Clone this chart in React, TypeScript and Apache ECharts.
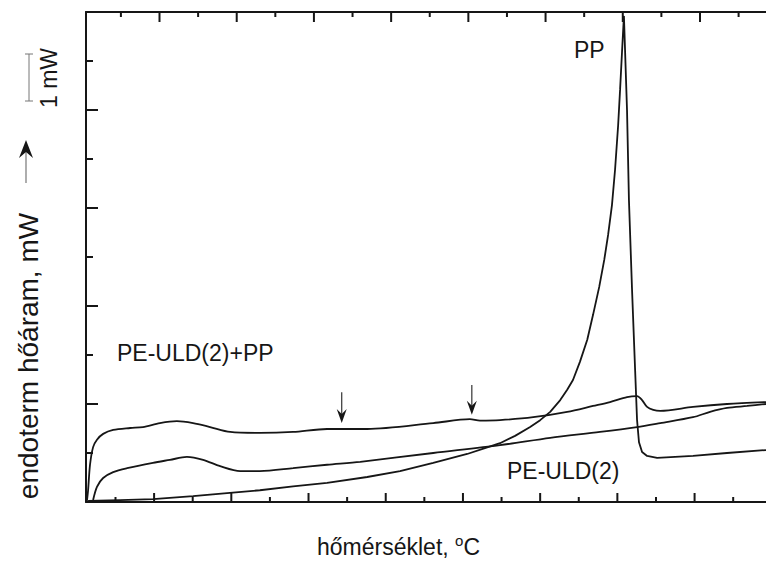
import React, { useEffect, useRef } from "react";
import * as echarts from "echarts";

// x axis: temperature-like units (no labels in the original), y axis: mW
const X_MIN = 22.36;
const X_MAX = 198.5;
const X_MAJOR_TICKS = [40, 60, 80, 100, 120, 140, 160, 180];
const X_MINOR_TICKS = [30, 50, 70, 90, 110, 130, 150, 170, 190];
const TOP_TICK_SHIFT = 1.4;
const Y_MIN = 0;
const Y_MAX = 10;

// PE-ULD(2)+PP
const blendCurve: [number, number][] = [
  [22.6, 0.02], [22.9, 0.24], [23.4, 0.76], [24.2, 1.12], [25.2, 1.27], [26.8, 1.39],
  [29.4, 1.47], [33.8, 1.51], [37.1, 1.53], [41.5, 1.61], [45.9, 1.65], [50.1, 1.61],
  [54.5, 1.53], [59.7, 1.43], [67.4, 1.41], [76.0, 1.43], [84.8, 1.49], [95.2, 1.49],
  [112.3, 1.61], [121.8, 1.69], [124.4, 1.66], [129.6, 1.67], [138.2, 1.73], [147.0, 1.84],
  [153.7, 1.96], [158.1, 2.04], [162.5, 2.14], [165.1, 2.16], [166.4, 2.08],
  [167.7, 1.94], [169.3, 1.88], [171.1, 1.86], [179.6, 1.94], [188.4, 2.0], [198.5, 2.04],
];

// PE-ULD(2)
const peCurve: [number, number][] = [
  [24.2, 0.04], [25.2, 0.31], [26.8, 0.49], [29.4, 0.61], [33.0, 0.69], [39.7, 0.8],
  [44.1, 0.86], [48.5, 0.92], [52.7, 0.86], [57.1, 0.73], [62.3, 0.63], [67.4, 0.63],
  [76.0, 0.69], [84.8, 0.76], [93.4, 0.82], [112.3, 1.0], [129.6, 1.16], [142.6, 1.31],
  [155.5, 1.43], [165.1, 1.53], [171.1, 1.61], [179.6, 1.73], [184.0, 1.84],
  [188.4, 1.92], [193.6, 1.96], [198.5, 2.0],
];

// PP
const ppCurve: [number, number][] = [
  [22.9, 0.02], [31.2, 0.04], [39.7, 0.06], [50.1, 0.12], [58.9, 0.18], [67.4, 0.24],
  [76.0, 0.32], [84.8, 0.39], [95.2, 0.51], [103.7, 0.63], [112.3, 0.8], [121.1, 0.98],
  [125.7, 1.1], [129.6, 1.2], [133.5, 1.35], [137.4, 1.53], [140.0, 1.67], [142.6, 1.84],
  [145.2, 2.08], [147.0, 2.29], [148.5, 2.49], [150.3, 2.86], [152.2, 3.31], [153.7, 3.82],
  [155.3, 4.39], [156.6, 4.94], [157.6, 5.45], [158.6, 6.06], [159.4, 6.78], [160.2, 7.69],
  [160.7, 8.41], [161.2, 9.18], [161.7, 9.92], [162.5, 8.0], [163.0, 6.16], [163.8, 4.33],
  [164.6, 2.69], [165.1, 1.67], [165.6, 1.22], [166.4, 1.02], [167.7, 0.94], [170.3, 0.9],
  [179.6, 0.94], [188.4, 1.0], [198.5, 1.06],
];

// arrows marking transitions: [x, y of tail, y of tip]
const arrowMarks: [number, number, number][] = [
  [88.6, 2.24, 1.61],
  [122.3, 2.39, 1.78],
];

const FONT = "'Liberation Sans', Arial, Helvetica, sans-serif";
const INK = "#161616";
const GRID = { left: 86, top: 12, width: 680, height: 490 };

export default function App() {
  const ref = useRef<HTMLDivElement>(null);

  useEffect(() => {
    if (!ref.current) return;
    const chart = echarts.init(ref.current, null, { renderer: "svg" });

    // measure the x title so the superscript "o" sits right after the comma
    const ctx = document.createElement("canvas").getContext("2d")!;
    ctx.font = `23px ${FONT}`;
    const wMain = ctx.measureText("hőmérséklet, ").width;
    ctx.font = `15px ${FONT}`;
    const wSup = ctx.measureText("o").width;

    const hidden = { show: false };

    const lineSeries = (name: string, data: [number, number][], smooth: number | boolean) => ({
      name,
      type: "line",
      xAxisIndex: 0,
      yAxisIndex: 0,
      data,
      smooth,
      symbol: "none",
      showSymbol: false,
      lineStyle: { color: INK, width: 1.8 },
      clip: true,
    });

    chart.setOption({
      animation: false,
      backgroundColor: "#ffffff",
      grid: { ...GRID, containLabel: false },
      xAxis: [
        {
          type: "value",
          position: "bottom",
          min: X_MIN,
          max: X_MAX,
          axisLine: { show: true, onZero: false, lineStyle: { color: INK, width: 2 } },
          axisTick: hidden,
          axisLabel: hidden,
          splitLine: hidden,
        },
        {
          type: "value",
          position: "top",
          min: X_MIN,
          max: X_MAX,
          axisLine: { show: true, onZero: false, lineStyle: { color: INK, width: 2 } },
          axisTick: hidden,
          axisLabel: hidden,
          splitLine: hidden,
        },
      ],
      yAxis: [
        {
          type: "value",
          min: Y_MIN,
          max: Y_MAX,
          interval: 2,
          axisLine: { show: true, onZero: false, lineStyle: { color: INK, width: 2 } },
          axisTick: { show: true, inside: true, length: 12, lineStyle: { color: INK, width: 2 } },
          minorTick: { show: true, splitNumber: 2, length: 7, lineStyle: { color: INK, width: 2 } },
          axisLabel: hidden,
          splitLine: hidden,
          minorSplitLine: hidden,
        },
      ],
      series: [
        lineSeries("PE-ULD(2)+PP", blendCurve, 0.3),
        lineSeries("PE-ULD(2)", peCurve, 0.3),
        lineSeries("PP", ppCurve, false),
        {
          type: "custom",
          xAxisIndex: 0,
          yAxisIndex: 0,
          data: arrowMarks,
          clip: false,
          silent: true,
          renderItem: (params: any, api: any) => {
            const tail = api.coord([api.value(0), api.value(1)]);
            const tip = api.coord([api.value(0), api.value(2)]);
            const hw = 5;
            const hh = 14;
            return {
              type: "group",
              children: [
                {
                  type: "line",
                  shape: { x1: tail[0], y1: tail[1], x2: tip[0], y2: tip[1] - hh * 0.6 },
                  style: { stroke: "#333", lineWidth: 1.2 },
                },
                {
                  type: "polygon",
                  shape: {
                    points: [
                      [tip[0], tip[1]],
                      [tip[0] + hw, tip[1] - hh],
                      [tip[0], tip[1] - hh * 0.65],
                      [tip[0] - hw, tip[1] - hh],
                    ],
                  },
                  style: { fill: INK },
                },
              ],
            };
          },
        },
      ],
    });

    // pixel helpers through the chart's own x / y scales (linear fallback if unavailable)
    const toPx = (v: number) => {
      const r = Number(chart.convertToPixel({ xAxisIndex: 0 }, v));
      return Number.isFinite(r) ? r : GRID.left + ((v - X_MIN) / (X_MAX - X_MIN)) * GRID.width;
    };
    const toPy = (v: number) => {
      const r = Number(chart.convertToPixel({ yAxisIndex: 0 }, v));
      return Number.isFinite(r) ? r : GRID.top + GRID.height - ((v - Y_MIN) / (Y_MAX - Y_MIN)) * GRID.height;
    };
    const yBottom = toPy(Y_MIN);
    const yTop = toPy(Y_MAX);

    // inward ticks on the bottom and top frame lines
    const tickEls: any[] = [];
    const addTicks = (values: number[], lenBottom: number, lenTop: number) => {
      values.forEach((v) => {
        const xb = toPx(v);
        const xt = toPx(v + TOP_TICK_SHIFT);
        tickEls.push({
          type: "rect",
          shape: { x: xb - 1, y: yBottom - lenBottom, width: 2, height: lenBottom },
          style: { fill: INK },
        });
        tickEls.push({
          type: "rect",
          shape: { x: xt - 1, y: yTop, width: 2, height: lenTop },
          style: { fill: INK },
        });
      });
    };
    addTicks(X_MAJOR_TICKS, 9, 10);
    addTicks(X_MINOR_TICKS, 5, 5);

    chart.setOption({
      graphic: [
        ...tickEls,
        {
          type: "text",
          x: 574,
          y: 50,
          style: { text: "PP", font: `23px ${FONT}`, fill: INK, align: "left", verticalAlign: "middle" },
        },
        {
          type: "text",
          x: 117,
          y: 353,
          style: { text: "PE-ULD(2)+PP", font: `23px ${FONT}`, fill: INK, align: "left", verticalAlign: "middle" },
        },
        {
          type: "text",
          x: 507,
          y: 471,
          style: { text: "PE-ULD(2)", font: `23px ${FONT}`, fill: INK, align: "left", verticalAlign: "middle" },
        },
        {
          type: "text",
          x: 317,
          y: 547,
          style: { text: "hőmérséklet, ", font: `23px ${FONT}`, fill: INK, align: "left", verticalAlign: "middle" },
        },
        {
          type: "text",
          x: 317 + wMain,
          y: 540,
          style: { text: "o", font: `15px ${FONT}`, fill: INK, align: "left", verticalAlign: "middle" },
        },
        {
          type: "text",
          x: 317 + wMain + wSup,
          y: 547,
          style: { text: "C", font: `23px ${FONT}`, fill: INK, align: "left", verticalAlign: "middle" },
        },
        {
          type: "text",
          x: 28,
          y: 356,
          rotation: Math.PI / 2,
          style: {
            text: "endoterm hőáram, mW",
            font: `28px ${FONT}`,
            fill: INK,
            align: "center",
            verticalAlign: "middle",
          },
        },
        {
          type: "text",
          x: 49,
          y: 78,
          rotation: Math.PI / 2,
          style: { text: "1 mW", font: `23px ${FONT}`, fill: INK, align: "center", verticalAlign: "middle" },
        },
        // scale bar
        { type: "line", shape: { x1: 29, y1: 54, x2: 29, y2: 101 }, style: { stroke: "#777", lineWidth: 1 } },
        { type: "line", shape: { x1: 25, y1: 54, x2: 33, y2: 54 }, style: { stroke: "#777", lineWidth: 1 } },
        { type: "line", shape: { x1: 25, y1: 101, x2: 33, y2: 101 }, style: { stroke: "#777", lineWidth: 1 } },
        // direction arrow
        { type: "line", shape: { x1: 26, y1: 152, x2: 26, y2: 183 }, style: { stroke: "#777", lineWidth: 1.2 } },
        {
          type: "polygon",
          shape: { points: [[26, 140], [33, 158], [26, 152], [19, 158]] },
          style: { fill: INK },
        },
      ],
    });

    return () => chart.dispose();
  }, []);

  return (
    <div
      ref={ref}
      style={{ position: "fixed", left: 0, top: 0, width: 766, height: 561, background: "#fff" }}
    />
  );
}
